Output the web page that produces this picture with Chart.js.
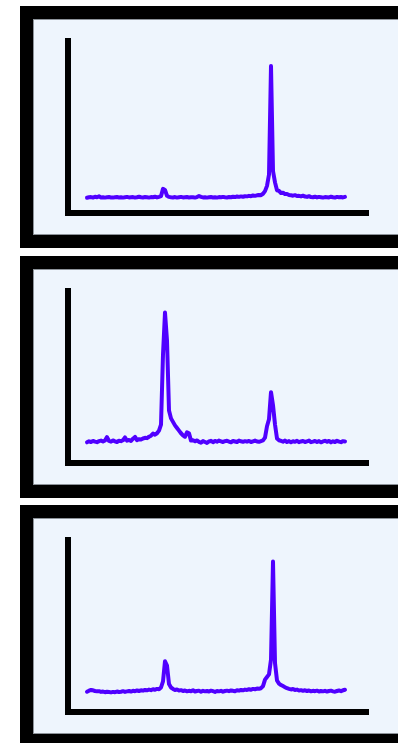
<!DOCTYPE html>
<html><head>
<meta charset="UTF-8">
<title>Spectra</title>
<script src="https://cdn.jsdelivr.net/npm/chart.js"></script>
<style>
    html, body { margin: 0; padding: 0; background: #fff; width: 398px; height: 743px; overflow: hidden; }
    .panel {
        position: absolute;
        left: 20px;
        width: 430px;
        height: 242px;
        box-sizing: border-box;
        border: 13px solid #000;
        background: #eef5fd;
        box-shadow: inset 0 0 0 1px #8d939a;
    }
    .panel canvas { position: absolute; left: 0; top: 0; }
</style>
</head>
<body>
    <div class="panel" style="top:6px"><canvas id="specA" width="365" height="216"></canvas></div>
    <div class="panel" style="top:256px"><canvas id="specB" width="365" height="216"></canvas></div>
    <div class="panel" style="top:505px"><canvas id="specC" width="365" height="216"></canvas></div>

<script>
// x positions (shift), shared by the three spectra
const shift = [
    19, 21, 23, 25, 27, 29, 31, 33, 35, 37,
    39, 41, 43, 45, 47, 49, 51, 53, 55, 57,
    59, 61, 63, 65, 67, 69, 71, 73, 75, 77,
    79, 81, 83, 85, 87, 89, 91, 93, 95, 97,
    99, 101, 103, 105, 107, 109, 111, 113, 115, 117,
    119, 121, 123, 125, 127, 129, 131, 133, 135, 137,
    139, 141, 143, 145, 147, 149, 151, 153, 155, 157,
    159, 161, 163, 165, 167, 169, 171, 173, 175, 177,
    179, 181, 183, 185, 187, 189, 191, 193, 195, 197,
    199, 201, 203, 205, 207, 209, 211, 213, 215, 217,
    219, 221, 223, 225, 227, 229, 231, 233, 235, 237,
    239, 241, 243, 245, 247, 249, 251, 253, 255, 257,
    259, 261, 263, 265, 267, 269, 271, 273, 275, 277
];

// intensities, top panel
const spectrumA = [
    8.7, 9.0, 9.1, 8.8, 9.3, 9.0, 9.5, 8.9, 9.0, 8.8,
    9.0, 9.1, 8.9, 8.8, 9.0, 9.1, 8.9, 9.0, 8.8, 9.0,
    9.2, 8.9, 9.0, 9.1, 8.8, 9.0, 9.3, 9.0, 8.9, 9.1,
    9.0, 8.8, 9.1, 9.0, 9.3, 8.9, 9.2, 9.6, 13.8, 13.2,
    9.8, 9.2, 9.0, 8.9, 9.1, 8.8, 9.0, 9.2, 8.9, 9.0,
    9.1, 8.9, 9.0, 9.0, 8.8, 9.1, 9.7, 9.2, 8.9, 9.0,
    8.8, 9.0, 9.1, 8.9, 9.0, 8.8, 9.1, 9.0, 9.2, 9.0,
    8.9, 9.1, 9.0, 9.3, 9.1, 9.4, 9.2, 9.5, 9.3, 9.6,
    9.5, 9.8, 9.6, 10.0, 9.8, 10.1, 10.3, 10.2, 11.0, 12.5,
    15.5, 22.0, 84.0, 24.0, 17.5, 13.0, 12.6, 11.4, 11.6, 10.8,
    10.9, 10.3, 10.1, 9.9, 10.2, 9.7, 9.8, 9.5, 9.9, 9.4,
    9.2, 9.6, 9.1, 9.0, 9.3, 8.9, 9.2, 9.0, 8.8, 9.1,
    9.0, 8.9, 9.3, 9.0, 8.8, 9.2, 9.0, 9.1, 8.9, 9.2
];

// intensities, middle panel
const spectrumB = [
    11.8, 12.4, 12.0, 12.6, 12.2, 11.9, 12.5, 12.8, 12.3, 12.9,
    14.8, 12.6, 12.2, 12.9, 12.4, 12.0, 12.7, 12.5, 13.0, 14.6,
    12.8, 13.2, 12.6, 13.9, 14.9, 13.1, 13.6, 13.4, 14.0, 14.4,
    14.2, 15.0, 15.6, 16.8, 16.2, 17.0, 18.5, 22.0, 62.0, 86.0,
    70.0, 30.0, 25.5, 23.5, 21.5, 20.0, 18.5, 17.0, 15.8, 15.0,
    17.5, 17.0, 12.8, 13.0, 12.4, 12.9, 12.1, 11.6, 12.5, 12.0,
    11.5, 12.3, 12.7, 11.9, 12.6, 12.2, 12.8, 12.4, 12.0, 12.5,
    12.7, 12.2, 11.8, 12.6, 12.3, 12.0, 12.8, 12.4, 12.1, 12.5,
    12.2, 12.6, 12.0, 12.4, 12.8, 12.3, 12.1, 12.5, 12.9, 14.5,
    21.0, 25.0, 40.5, 33.0, 22.0, 14.0, 13.0, 12.6, 12.2, 12.8,
    12.0, 12.5, 11.8, 12.4, 12.1, 12.7, 11.9, 12.3, 12.6, 12.0,
    12.4, 12.8, 11.9, 12.2, 12.6, 12.0, 12.5, 11.8, 12.3, 12.7,
    12.1, 12.6, 11.8, 12.4, 12.0, 12.7, 12.2, 11.9, 12.5, 12.3
];

// intensities, bottom panel
const spectrumC = [
    11.6, 12.2, 12.6, 12.4, 12.0, 11.8, 11.9, 11.5, 11.7, 11.3,
    11.6, 11.4, 11.2, 11.5, 11.3, 11.7, 11.4, 11.6, 11.9, 11.5,
    11.8, 12.0, 11.7, 12.1, 11.9, 12.3, 12.0, 12.4, 12.2, 12.6,
    12.4, 12.8, 12.5, 13.0, 12.7, 13.2, 13.0, 14.0, 17.5, 29.0,
    26.5, 16.0, 14.0, 13.2, 12.6, 12.9, 12.3, 12.5, 12.0, 12.3,
    11.8, 12.1, 11.9, 12.4, 11.7, 12.0, 12.2, 11.6, 12.1, 11.8,
    12.0, 11.7, 12.2, 11.9, 11.5, 12.0, 11.8, 12.1, 11.6, 12.0,
    12.2, 11.9, 12.3, 12.1, 11.8, 12.4, 12.2, 12.6, 12.4, 12.8,
    12.6, 13.0, 12.7, 13.2, 13.0, 13.4, 13.3, 13.6, 14.8, 18.5,
    20.0, 21.5, 30.0, 86.0, 28.0, 18.0, 16.2, 15.4, 14.8, 14.2,
    13.6, 13.2, 12.9, 13.1, 12.6, 12.8, 12.3, 12.5, 12.1, 12.4,
    12.0, 12.3, 11.8, 12.1, 11.9, 12.2, 11.7, 12.0, 11.8, 12.1,
    11.7, 12.0, 12.2, 11.8, 11.6, 12.0, 12.3, 11.9, 12.4, 12.7
];

function drawSpectrum(id, values) {
    const points = shift.map((x, i) => ({ x: x, y: values[i] }));
    new Chart(document.getElementById(id), {
        type: 'line',
        data: {
            datasets: [{
                data: points,
                borderColor: '#5000ff',
                borderWidth: 4,
                borderJoinStyle: 'round',
                borderCapStyle: 'round',
                pointRadius: 0,
                tension: 0,
                fill: false
            }]
        },
        options: {
            responsive: false,
            animation: false,
            layout: { padding: { left: 35, top: 22, right: 30, bottom: 22 } },
            plugins: { legend: { display: false }, tooltip: { enabled: false } },
            scales: {
                x: {
                    type: 'linear',
                    min: 0,
                    max: 300,
                    grid: { display: false, drawTicks: false },
                    ticks: { display: false },
                    border: { display: true, color: '#000', width: 6 }
                },
                y: {
                    min: 0,
                    max: 98.3,
                    grid: { display: false, drawTicks: false },
                    ticks: { display: false },
                    border: { display: true, color: '#000', width: 6 }
                }
            }
        }
    });
}

drawSpectrum('specA', spectrumA);
drawSpectrum('specB', spectrumB);
drawSpectrum('specC', spectrumC);
</script>
</body></html>
